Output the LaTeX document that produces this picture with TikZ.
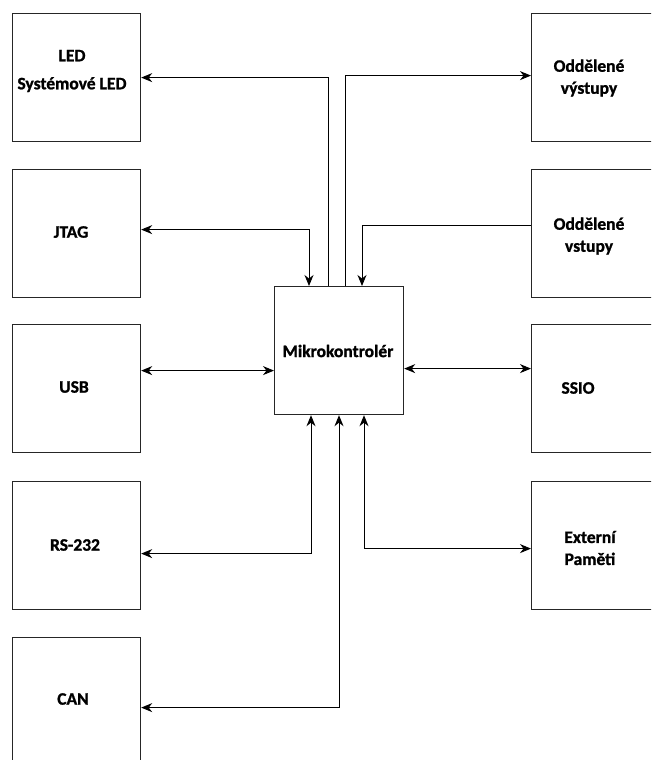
\documentclass[tikz,border=0pt]{standalone}
\usepackage{fontspec}
\setmainfont{Carlito}[BoldFeatures={FakeBold=1.2}]
\usetikzlibrary{arrows.meta}
\begin{document}
\begin{tikzpicture}[x=1pt,y=-1pt,
  blk/.style={draw=black!85, line width=1.2pt, minimum width=128pt, minimum height=128pt, anchor=north west, inner sep=0pt},
  mcubox/.style={draw=black!85, line width=1.2pt, minimum width=129pt, minimum height=128pt, anchor=north west, inner sep=0pt},
  lbl/.style={font=\bfseries\fontsize{17.5}{22}\selectfont, align=center, inner sep=0pt},
  tip/.tip={Stealth[length=11pt,width=9pt,inset=3.5pt]},
  conn/.style={line width=1pt, -tip},
  bi/.style={line width=1pt, tip-tip}]
\clip (0,0) rectangle (651,760);
% left column
\node[blk] (led) at (12,13) {};
\node[blk] (jtag) at (12,169) {};
\node[blk] (usb) at (12,324) {};
\node[blk] (rs) at (12,481) {};
\node[blk] (can) at (12,637) {};
% right column
\node[blk] (outA) at (531,13) {};
\node[blk] (inB) at (531,169) {};
\node[blk] (ssio) at (531,324) {};
\node[blk] (ext) at (531,481) {};
% microcontroller
\node[mcubox] (mcu) at (274,286) {};
% labels
\node[lbl, font=\bfseries\fontsize{17.5}{28}\selectfont] (tled) at (72,71) {LED\\Systémové LED};
\node[lbl] (tjtag) at (71,232) {JTAG};
\node[lbl] (tusb) at (74,387) {USB};
\node[lbl] (trs) at (75,545) {RS-232};
\node[lbl] (tcan) at (73,699) {CAN};
\node[lbl] (tmcu) at (338,351) {Mikrokontrolér};
\node[lbl] (tout) at (589,78) {Oddělené\\výstupy};
\node[lbl] (tin) at (589,236) {Oddělené\\vstupy};
\node[lbl] (tssio) at (578,388) {SSIO};
\node[lbl] (text) at (590,548) {Externí\\Paměti};
% connectors
\draw[conn] ([xshift=54pt]mcu.north west) |- (led.east);
\draw[conn] ([xshift=71pt]mcu.north west) |- ([yshift=2pt]outA.west);
\draw[bi] ([yshift=4pt]jtag.east) -| ([xshift=35pt]mcu.north west);
\draw[conn] ([yshift=8pt]inB.west) -| ([xshift=88pt]mcu.north west);
\draw[bi] ([yshift=18pt]usb.east) -- ([yshift=18pt]usb.east -| mcu.west);
\draw[bi] ([yshift=20pt]ssio.west -| mcu.east) -- ([yshift=20pt]ssio.west);
\draw[bi] ([xshift=37pt]mcu.south west) |- ([yshift=-8pt]rs.east);
\draw[bi] ([xshift=65pt]mcu.south west) |- ([yshift=-6pt]can.east);
\draw[bi] ([xshift=90pt]mcu.south west) |- ([yshift=-3pt]ext.west);
\end{tikzpicture}
\end{document}
